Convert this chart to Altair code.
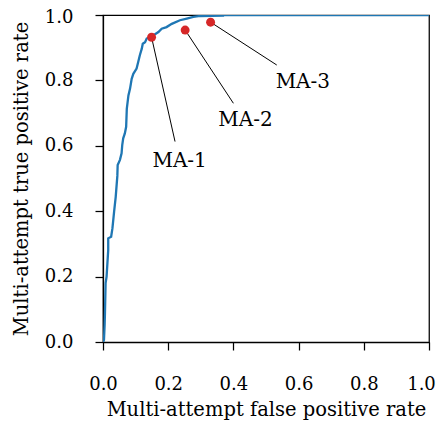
import altair as alt
import pandas as pd

# ROC curve
fpr = [0.0, 0.003, 0.005, 0.006, 0.008, 0.011, 0.016, 0.016, 0.025, 0.029, 0.034, 0.039,
       0.044, 0.045, 0.052, 0.057, 0.059, 0.062, 0.067, 0.071, 0.073, 0.078, 0.083, 0.088,
       0.093, 0.103, 0.108, 0.113, 0.119, 0.122, 0.129, 0.134, 0.144, 0.156, 0.170, 0.180,
       0.195, 0.211, 0.236, 0.257, 0.277, 0.298, 0.368, 0.368, 1.0]
tpr = [0.0, 0.006, 0.052, 0.088, 0.180, 0.200, 0.281, 0.317, 0.322, 0.348, 0.398, 0.444,
       0.508, 0.541, 0.557, 0.577, 0.602, 0.623, 0.638, 0.658, 0.713, 0.754, 0.775, 0.805,
       0.820, 0.836, 0.856, 0.877, 0.897, 0.912, 0.917, 0.928, 0.933, 0.939, 0.948, 0.958,
       0.963, 0.973, 0.984, 0.989, 0.994, 0.997, 0.998, 1.0, 1.0]

# operating points and their annotations
ma_names = ["MA-1", "MA-2", "MA-3"]
ma_fpr = [0.149, 0.252, 0.330]
ma_tpr = [0.932, 0.954, 0.978]
ma_line_x = [0.221, 0.400, 0.533]
ma_line_y = [0.613, 0.730, 0.847]
ma_text_x = [0.235, 0.437, 0.613]
ma_text_y = [0.554, 0.679, 0.796]

tick_vals = [0.0, 0.2, 0.4, 0.6, 0.8, 1.0]

curve = pd.DataFrame({"fpr": fpr, "tpr": tpr, "i": range(len(fpr))})
ma = pd.DataFrame({"name": ma_names, "fpr": ma_fpr, "tpr": ma_tpr,
                   "lx": ma_line_x, "ly": ma_line_y,
                   "tx": ma_text_x, "ty": ma_text_y})

FONT = "'DejaVu Serif', 'Liberation Serif', serif"
xscale = alt.Scale(domain=[0, 1], nice=False, zero=False)
yscale = alt.Scale(domain=[0, 1], nice=False, zero=False)

xaxis = alt.Axis(title="Multi-attempt false positive rate", values=tick_vals, format=".1f",
                 labelPadding=25, titlePadding=7, grid=False, labelFlush=False,
                 labelOffset={"condition": {"test": "datum.value >= 1", "value": -8},
                              "value": 0})
yaxis = alt.Axis(title="Multi-attempt true positive rate", values=tick_vals, format=".1f",
                 labelPadding=22, titlePadding=13, grid=False, labelFlush=False,
                 labelOffset={"condition": {"test": "datum.value >= 1", "value": 2},
                              "value": 0})

line = alt.Chart(curve).mark_line(color="#1f77b4", strokeWidth=2.3, clip=True).encode(
    x=alt.X("fpr:Q", scale=xscale, axis=xaxis),
    y=alt.Y("tpr:Q", scale=yscale, axis=yaxis),
    order="i:Q",
)

rules = alt.Chart(ma).mark_rule(color="black", strokeWidth=1).encode(
    x="fpr:Q", y="tpr:Q", x2="lx:Q", y2="ly:Q"
)

points = alt.Chart(ma).mark_circle(size=80, color="#d62728", opacity=1).encode(
    x="fpr:Q", y="tpr:Q"
)

labels = alt.Chart(ma).mark_text(font=FONT, fontSize=20, color="black",
                                 align="center", baseline="middle").encode(
    x="tx:Q", y="ty:Q", text="name:N"
)

chart = alt.layer(line, rules, points, labels).properties(
    width=326, height=327,
    autosize=alt.AutoSizeParams(type="none"),
    padding={"left": 95, "top": 7, "right": 7, "bottom": 80},
).configure_view(
    stroke="black", strokeWidth=1.25
).configure_axis(
    domainColor="black", domainWidth=1.25,
    tickColor="black", tickWidth=1.25, tickSize=8,
    labelFont=FONT, labelFontSize=18, labelColor="black",
    titleFont=FONT, titleFontSize=19.5, titleFontWeight="normal", titleColor="black",
)

chart.save("out.html", embed_options={"renderer": "svg", "actions": False})
